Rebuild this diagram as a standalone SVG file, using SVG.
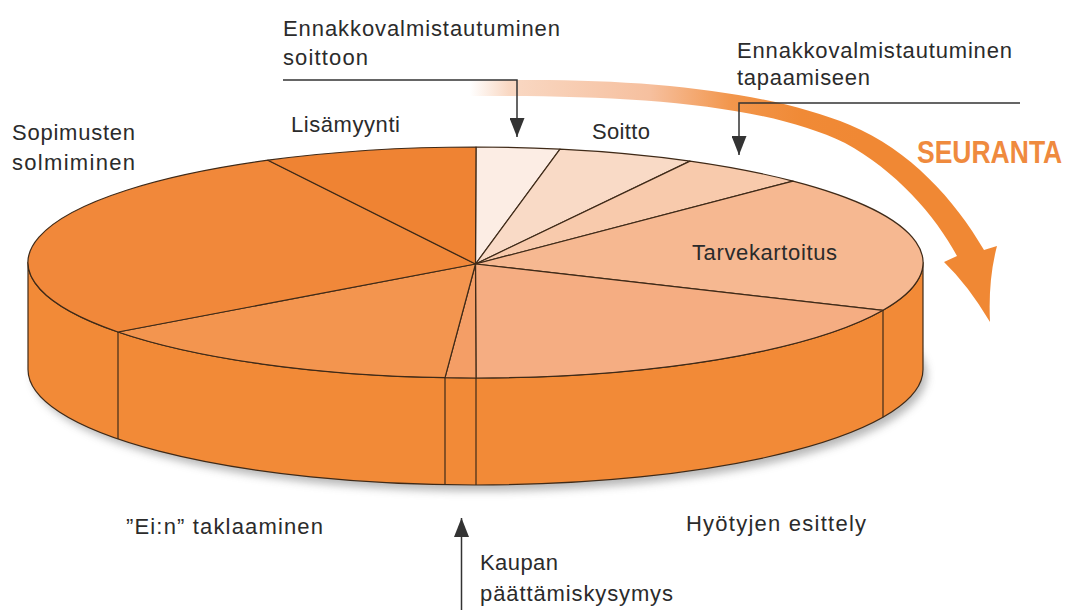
<svg xmlns="http://www.w3.org/2000/svg" width="1070" height="610" viewBox="0 0 1070 610">
<defs>
<style>
.t{font-family:"Liberation Sans",Arial,sans-serif;font-size:22px;fill:#2b2b2b}
.seur{font-family:"Liberation Sans",Arial,sans-serif;font-size:26.5px;font-weight:bold;fill:#EF8A3E}
.ol{stroke:#3f2a18;stroke-width:1.2;stroke-linejoin:round}
.seam{stroke:#3f2a18;stroke-width:1.2;fill:none}
.call{stroke:#333;stroke-width:1.5;fill:none}
</style>
<marker id="ah" viewBox="0 0 19 15" refX="19" refY="7.5" markerWidth="19" markerHeight="15" markerUnits="userSpaceOnUse" orient="auto">
<path d="M0,0 L19,7.5 L0,15 Z" fill="#333"/>
</marker>
<linearGradient id="sg" gradientUnits="userSpaceOnUse" x1="470" y1="0" x2="860" y2="0">
<stop offset="0" stop-color="#FFFFFF"/>
<stop offset="0.1" stop-color="#F9D8C3"/>
<stop offset="0.46" stop-color="#F6C09F"/>
<stop offset="0.67" stop-color="#F2964C"/>
<stop offset="0.85" stop-color="#F08A36"/>
<stop offset="1" stop-color="#F08834"/>
</linearGradient>
<filter id="blur" x="-10%" y="-50%" width="120%" height="200%">
<feGaussianBlur stdDeviation="4"/>
</filter>
</defs>

<rect width="1070" height="610" fill="#FFFFFF"/>

<g id="connectors">
<path id="seuranta-arrow" d="M470,81 C620,76 760,88 850,125 C910,150 955,200 984,250 L997,246 Q988,280 990,322 Q968,285 944,262 L957,256 C935,215 895,170 845,143 C760,102 620,95 470,96 Z" fill="url(#sg)"/>
<path class="call" d="M283,80 H517 V137" marker-end="url(#ah)"/>
<path class="call" d="M1020,103 H739 V155" marker-end="url(#ah)"/>
<path class="call" d="M461.5,610 V518" marker-end="url(#ah)"/>
</g>

<g id="pie">
<ellipse id="pie-shadow" cx="480" cy="375" rx="447" ry="116" fill="#6f6f6f" opacity="0.5" filter="url(#blur)"/>
<path id="pie-side" class="ol" d="M28,262.5 A447.5,115.5 0 0 0 923,262.5 L923,369.5 A447.5,115.5 0 0 1 28,369.5 Z" fill="#F28A37"/>
<g class="seam">
<line x1="118" y1="332" x2="118" y2="439"/>
<line x1="445" y1="377.7" x2="445" y2="484.8"/>
<line x1="476" y1="378" x2="476" y2="485"/>
<line x1="883" y1="310.3" x2="883" y2="417.3"/>
</g>

<g id="slice-soitto">
<path class="ol" d="M475.5,264 L476,147 A447.5,115.5 0 0 1 560,149.1 Z" fill="#FCEDE4"/>
</g>
<g id="slice-2">
<path class="ol" d="M475.5,264 L560,149.1 A447.5,115.5 0 0 1 690,161.1 Z" fill="#F9DAC6"/>
</g>
<g id="slice-3">
<path class="ol" d="M475.5,264 L690,161.1 A447.5,115.5 0 0 1 793,181.1 Z" fill="#F8CAAC"/>
</g>
<g id="slice-tarvekartoitus">
<path class="ol" d="M475.5,264 L793,181.1 A447.5,115.5 0 0 1 883,310.3 Z" fill="#F6B891"/>
<text class="t" x="692" y="260" textLength="145" lengthAdjust="spacing">Tarvekartoitus</text>
</g>
<g id="slice-hyotyjen">
<path class="ol" d="M475.5,264 L883,310.3 A447.5,115.5 0 0 1 476,378 Z" fill="#F5AD82"/>
</g>
<g id="slice-kaupan">
<path class="ol" d="M475.5,264 L476,378 A447.5,115.5 0 0 1 445,377.7 Z" fill="#F49E66"/>
</g>
<g id="slice-ein">
<path class="ol" d="M475.5,264 L445,377.7 A447.5,115.5 0 0 1 118,332 Z" fill="#F3954F"/>
</g>
<g id="slice-sopimusten">
<path class="ol" d="M475.5,264 L118,332 A447.5,115.5 0 0 1 268,160.2 Z" fill="#F1883A"/>
</g>
<g id="slice-lisamyynti">
<path class="ol" d="M475.5,264 L268,160.2 A447.5,115.5 0 0 1 476,147 Z" fill="#EF8333"/>
</g>
</g>

<g id="labels">
<g id="label-ennakko-soitto">
<text class="t" x="283" y="36" textLength="277" lengthAdjust="spacing">Ennakkovalmistautuminen</text>
<text class="t" x="283" y="65" textLength="85" lengthAdjust="spacing">soittoon</text>
</g>
<g id="label-ennakko-tapaaminen">
<text class="t" x="737" y="58" textLength="275" lengthAdjust="spacing">Ennakkovalmistautuminen</text>
<text class="t" x="737" y="85" textLength="133" lengthAdjust="spacing">tapaamiseen</text>
</g>
<text id="label-lisamyynti" class="t" x="291" y="132" textLength="109" lengthAdjust="spacing">Lisämyynti</text>
<text id="label-soitto" class="t" x="592" y="139" textLength="58" lengthAdjust="spacing">Soitto</text>
<g id="label-sopimusten">
<text class="t" x="12" y="140" textLength="123" lengthAdjust="spacing">Sopimusten</text>
<text class="t" x="12" y="170" textLength="123" lengthAdjust="spacing">solmiminen</text>
</g>
<text id="label-seuranta" class="seur" transform="translate(917,163) scale(1,1.2)" x="0" y="0">SEURANTA</text>
<text id="label-ein" class="t" x="126" y="534" textLength="197" lengthAdjust="spacing">”Ei:n” taklaaminen</text>
<text id="label-hyotyjen" class="t" x="686" y="531" textLength="180" lengthAdjust="spacing">Hyötyjen esittely</text>
<g id="label-kaupan">
<text class="t" x="480" y="570" textLength="78" lengthAdjust="spacing">Kaupan</text>
<text class="t" x="480" y="601" textLength="193" lengthAdjust="spacing">päättämiskysymys</text>
</g>
</g>
</svg>
